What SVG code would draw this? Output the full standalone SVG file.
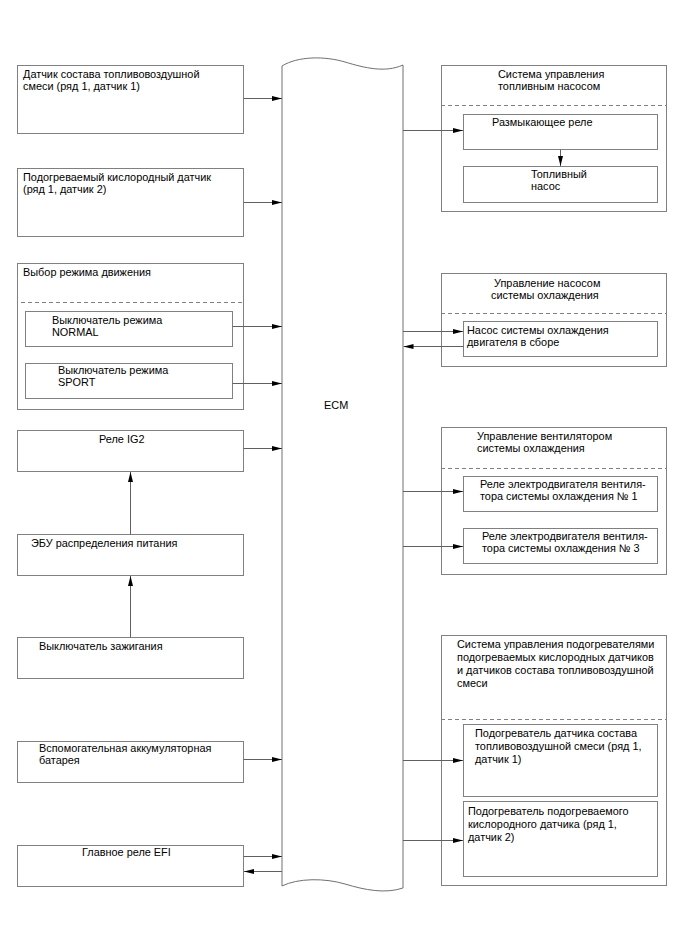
<svg xmlns="http://www.w3.org/2000/svg" width="688" height="949" viewBox="0 0 688 949">
<style>
.box{fill:#fff;stroke:#808080;stroke-width:1}
.dash{fill:none;stroke:#808080;stroke-width:1;stroke-dasharray:4,3}
.ln{fill:none;stroke:#606060;stroke-width:1;marker-end:url(#ah)}
.ecm{fill:#fff;stroke:#707070;stroke-width:1}
text{font-family:"Liberation Sans",Arial,sans-serif;font-size:10.9px;fill:#000}
</style>
<defs>
<marker id="ah" markerWidth="10" markerHeight="6" refX="10" refY="3" orient="auto" markerUnits="userSpaceOnUse">
<path d="M0,0.5 L10,3 L0,5.5 Z" fill="#000"/>
</marker>
</defs>
<rect width="688" height="949" fill="#fff"/>

<g id="ecm">
<path class="ecm" d="M282,66 C298,56 325,56 345,62 C365,68 385,73 403,65 L403,888 C385,894 365,890 345,884 C325,878 298,878 282,886 Z"/>
<text x="324" y="409">ECM</text>
</g>

<g id="n1">
<rect class="box" x="17.5" y="65.5" width="226" height="68"/>
<text x="23" y="78">Датчик состава топливовоздушной</text>
<text x="23" y="90">смеси (ряд 1, датчик 1)</text>
</g>
<g id="n2">
<rect class="box" x="17.5" y="168.5" width="226" height="68"/>
<text x="23" y="181">Подогреваемый кислородный датчик</text>
<text x="23" y="193">(ряд 1, датчик 2)</text>
</g>
<g id="n3">
<rect class="box" x="17.5" y="263.5" width="226" height="146"/>
<text x="23" y="276">Выбор режима движения</text>
<line class="dash" x1="21" y1="302.5" x2="243" y2="302.5"/>
</g>
<g id="n3a">
<rect class="box" x="25.5" y="311.5" width="207" height="35"/>
<text x="52" y="324">Выключатель режима</text>
<text x="52" y="336">NORMAL</text>
</g>
<g id="n3b">
<rect class="box" x="25.5" y="363.5" width="207" height="35"/>
<text x="58" y="374">Выключатель режима</text>
<text x="58" y="386">SPORT</text>
</g>
<g id="n4">
<rect class="box" x="17.5" y="430.5" width="226" height="41"/>
<text x="99" y="443">Реле IG2</text>
</g>
<g id="n5">
<rect class="box" x="17.5" y="534.5" width="226" height="41"/>
<text x="31" y="547">ЭБУ распределения питания</text>
</g>
<g id="n6">
<rect class="box" x="17.5" y="637.5" width="226" height="41"/>
<text x="39" y="650">Выключатель зажигания</text>
</g>
<g id="n7">
<rect class="box" x="17.5" y="741.5" width="226" height="41"/>
<text x="39" y="752">Вспомогательная аккумуляторная</text>
<text x="39" y="764">батарея</text>
</g>
<g id="n8">
<rect class="box" x="17.5" y="845.5" width="226" height="41"/>
<text x="82" y="856">Главное реле EFI</text>
</g>

<g id="r1">
<rect class="box" x="441.5" y="65.5" width="225" height="146"/>
<text x="498" y="78">Система управления</text>
<text x="498" y="90">топливным насосом</text>
<line class="dash" x1="441" y1="105.5" x2="667" y2="105.5"/>
</g>
<g id="r1a">
<rect class="box" x="463.5" y="114.5" width="194" height="35"/>
<text x="492" y="126">Размыкающее реле</text>
</g>
<g id="r1b">
<rect class="box" x="463.5" y="166.5" width="194" height="36"/>
<text x="531" y="178">Топливный</text>
<text x="531" y="190">насос</text>
</g>
<g id="r2">
<rect class="box" x="441.5" y="273.5" width="225" height="93"/>
<text x="494" y="287">Управление насосом</text>
<text x="491" y="299">системы охлаждения</text>
<line class="dash" x1="441" y1="313.5" x2="667" y2="313.5"/>
</g>
<g id="r2a">
<rect class="box" x="463.5" y="321.5" width="194" height="35"/>
<text x="467" y="334">Насос системы охлаждения</text>
<text x="467" y="346">двигателя в сборе</text>
</g>
<g id="r3">
<rect class="box" x="441.5" y="427.5" width="225" height="147"/>
<text x="477" y="440">Управление вентилятором</text>
<text x="477" y="452">системы охлаждения</text>
<line class="dash" x1="441" y1="468.5" x2="667" y2="468.5"/>
</g>
<g id="r3a">
<rect class="box" x="463.5" y="476.5" width="194" height="35"/>
<text x="480" y="488">Реле электродвигателя вентиля-</text>
<text x="480" y="500">тора системы охлаждения № 1</text>
</g>
<g id="r3b">
<rect class="box" x="463.5" y="528.5" width="194" height="35"/>
<text x="482" y="540">Реле электродвигателя вентиля-</text>
<text x="482" y="552">тора системы охлаждения № 3</text>
</g>
<g id="r4">
<rect class="box" x="441.5" y="635.5" width="225" height="250"/>
<text x="457" y="648">Система управления подогревателями</text>
<text x="457" y="661">подогреваемых кислородных датчиков</text>
<text x="457" y="674">и датчиков состава топливовоздушной</text>
<text x="457" y="687">смеси</text>
<line class="dash" x1="441" y1="719.5" x2="667" y2="719.5"/>
</g>
<g id="r4a">
<rect class="box" x="463.5" y="724.5" width="194" height="72"/>
<text x="475" y="737">Подогреватель датчика состава</text>
<text x="475" y="750">топливовоздушной смеси (ряд 1,</text>
<text x="475" y="763">датчик 1)</text>
</g>
<g id="r4b">
<rect class="box" x="463.5" y="801.5" width="194" height="75"/>
<text x="468" y="815">Подогреватель подогреваемого</text>
<text x="468" y="828">кислородного датчика (ряд 1,</text>
<text x="468" y="841">датчик 2)</text>
</g>

<g id="connectors">
<line class="ln" x1="243.5" y1="98.5" x2="282" y2="98.5"/>
<line class="ln" x1="243.5" y1="202.5" x2="282" y2="202.5"/>
<line class="ln" x1="232.5" y1="326.5" x2="282" y2="326.5"/>
<line class="ln" x1="232.5" y1="383.5" x2="282" y2="383.5"/>
<line class="ln" x1="243.5" y1="448.5" x2="282" y2="448.5"/>
<line class="ln" x1="130.5" y1="534.5" x2="130.5" y2="472"/>
<line class="ln" x1="130.5" y1="637.5" x2="130.5" y2="576"/>
<line class="ln" x1="243.5" y1="759.5" x2="282" y2="759.5"/>
<line class="ln" x1="243.5" y1="856.5" x2="282" y2="856.5"/>
<line class="ln" x1="282" y1="871.5" x2="244" y2="871.5"/>
<line class="ln" x1="403" y1="130.5" x2="463" y2="130.5"/>
<line class="ln" x1="560.5" y1="149.5" x2="560.5" y2="166"/>
<line class="ln" x1="403" y1="331.5" x2="463" y2="331.5"/>
<line class="ln" x1="463.5" y1="346.5" x2="403.5" y2="346.5"/>
<line class="ln" x1="403" y1="491.5" x2="463" y2="491.5"/>
<line class="ln" x1="403" y1="546.5" x2="463" y2="546.5"/>
<line class="ln" x1="403" y1="760.5" x2="463" y2="760.5"/>
<line class="ln" x1="403" y1="840.5" x2="463" y2="840.5"/>
</g>
</svg>
